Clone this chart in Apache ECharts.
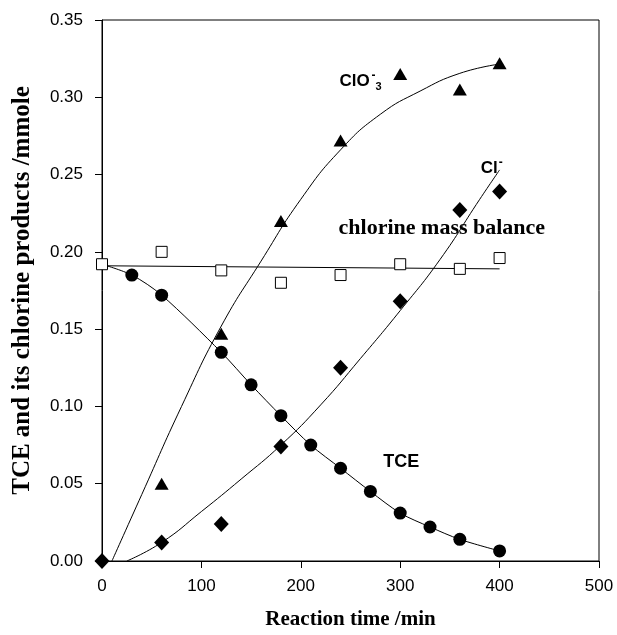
<!DOCTYPE html>
<html>
<head>
<meta charset="utf-8">
<script src="https://cdn.jsdelivr.net/npm/echarts@6/dist/echarts.min.js"></script>
<style>
  html, body { margin: 0; padding: 0; background: #fff; }
  #main { width: 617px; height: 635px; }
</style>
</head>
<body>
<div id="main"></div>
<script>
// measured points, reaction time /min
var tceTime = [0, 30, 60, 120, 150, 180, 210, 240, 270, 300, 330, 360, 400];
var tceValue = [0.192, 0.185, 0.172, 0.135, 0.114, 0.094, 0.075, 0.060, 0.045, 0.031, 0.022, 0.014, 0.0065];

var balanceTime = [0, 60, 120, 180, 240, 300, 360, 400];
var balanceValue = [0.192, 0.200, 0.188, 0.180, 0.185, 0.192, 0.189, 0.196];
var balanceFitTime = [0, 400];
var balanceFitValue = [0.191, 0.189];

var chlorateTime = [60, 120, 180, 240, 300, 360, 400];
var chlorateValue = [0.050, 0.147, 0.220, 0.272, 0.315, 0.305, 0.322];
// fitted curve
var chlorateFitTime = [10, 40, 80, 120, 160, 200, 240, 280, 320, 360, 400];
var chlorateFitValue = [0, 0.043, 0.100, 0.152, 0.194, 0.234, 0.266, 0.289, 0.304, 0.3155, 0.3215];

var chlorideTime = [0, 60, 120, 180, 240, 300, 360, 400];
var chlorideValue = [0, 0.012, 0.024, 0.074, 0.125, 0.168, 0.227, 0.239];
var chlorideFitTime = [25, 60, 100, 140, 180, 220, 260, 300, 340, 380, 400];
var chlorideFitValue = [0, 0.012, 0.032, 0.053, 0.075, 0.101, 0.131, 0.162, 0.195, 0.234, 0.253];

function pairs(xs, ys) {
    var out = [];
    for (var i = 0; i < xs.length; i++) out.push([xs[i], ys[i]]);
    return out;
}

var chart = echarts.init(document.getElementById('main'));

var tceData = pairs(tceTime, tceValue);
tceData[0] = { value: tceData[0], symbol: 'none' }; // first point hidden under the square

var thin = { color: '#000', width: 1 };

chart.setOption({
    animation: false,
    backgroundColor: '#fff',
    grid: { left: 102, right: 18, top: 20, bottom: 74, show: true, borderColor: '#000', borderWidth: 1 },
    xAxis: {
        type: 'value', min: 0, max: 500, interval: 100,
        name: 'Reaction time /min', nameLocation: 'middle', nameGap: 48,
        nameTextStyle: { fontFamily: 'Liberation Serif', fontWeight: 'bold', fontSize: 21, color: '#000' },
        axisLine: { lineStyle: { color: '#000', width: 1 } },
        axisTick: { inside: false, length: 7, lineStyle: { color: '#000' } },
        axisLabel: { margin: 17, fontFamily: 'Liberation Sans', fontSize: 17, color: '#000' },
        splitLine: { show: false }
    },
    yAxis: {
        type: 'value', min: 0, max: 0.35, interval: 0.05,
        name: 'TCE and its chlorine products /mmole', nameLocation: 'middle', nameGap: 67,
        nameTextStyle: { fontFamily: 'Liberation Serif', fontWeight: 'bold', fontSize: 25, color: '#000' },
        axisLine: { lineStyle: { color: '#000', width: 1 } },
        axisTick: { inside: false, length: 7, lineStyle: { color: '#000' } },
        axisLabel: {
            margin: 19, fontFamily: 'Liberation Sans', fontSize: 17, color: '#000',
            formatter: function (v) { return v.toFixed(2); }
        },
        splitLine: { show: false }
    },
    series: [
        { type: 'line', data: pairs(balanceFitTime, balanceFitValue), symbol: 'none', lineStyle: thin, z: 2 },
        { type: 'line', data: pairs(chlorateFitTime, chlorateFitValue), symbol: 'none', smooth: 0.5, lineStyle: thin, z: 2 },
        { type: 'line', data: pairs(chlorideFitTime, chlorideFitValue), symbol: 'none', smooth: 0.5, lineStyle: thin, z: 2 },
        {
            type: 'line', data: tceData, smooth: 0.3, lineStyle: thin,
            symbol: 'circle', symbolSize: 13, showAllSymbol: true,
            itemStyle: { color: '#000', opacity: 1 }, z: 3
        },
        {
            type: 'scatter', data: pairs(chlorateTime, chlorateValue),
            symbol: 'triangle', symbolSize: [14, 12], itemStyle: { color: '#000', opacity: 1 }, z: 4
        },
        {
            type: 'scatter', data: pairs(chlorideTime, chlorideValue),
            symbol: 'diamond', symbolSize: [15, 16], itemStyle: { color: '#000', opacity: 1 }, z: 4
        },
        {
            type: 'scatter', data: pairs(balanceTime, balanceValue),
            symbol: 'rect', symbolSize: 11,
            itemStyle: { color: '#fff', borderColor: '#000', borderWidth: 1, opacity: 1 }, z: 5
        }
    ]
});

// text annotations anchored in data coordinates
var sans = 'Liberation Sans';
var notes = [
    { at: [239, 0.3146], text: 'ClO', font: sans, size: 17, dx: 0, dy: -2 },
    { at: [239, 0.3146], text: '-', font: sans, size: 12, dx: 32, dy: -5 },
    { at: [239, 0.3146], text: '3', font: sans, size: 11, dx: 36, dy: 7 },
    { at: [381, 0.2597], text: 'Cl', font: sans, size: 17, dx: 0, dy: 0 },
    { at: [381, 0.2597], text: '-', font: sans, size: 12, dx: 18, dy: -3 },
    { at: [238, 0.2225], text: 'chlorine mass balance', font: 'Liberation Serif', size: 22, dx: 0, dy: 0 },
    { at: [283, 0.0700], text: 'TCE', font: sans, size: 18, dx: 0, dy: 0 }
];

var graphics = notes.map(function (n) {
    var p = chart.convertToPixel({ gridIndex: 0 }, n.at);
    return {
        type: 'text', left: p[0] + n.dx, top: p[1] + n.dy, z: 10,
        style: { text: n.text, fontFamily: n.font, fontWeight: 'bold', fontSize: n.size, fill: '#000' }
    };
});
chart.setOption({ graphic: graphics });
</script>
</body>
</html>
